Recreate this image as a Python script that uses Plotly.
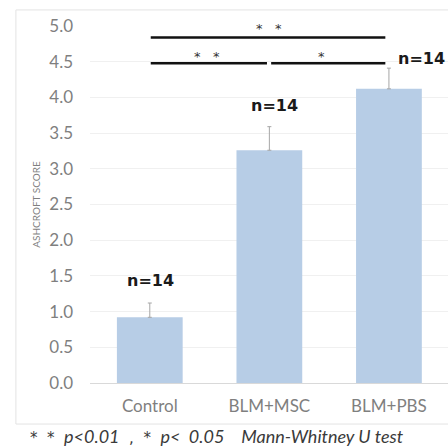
import plotly.graph_objects as go

categories = ["Control", "BLM+MSC", "BLM+PBS"]
means = [0.92, 3.26, 4.12]
errors = [0.20, 0.33, 0.29]
n_labels = ["n=14", "n=14", "n=14"]
y_ticks = [0.0, 0.5, 1.0, 1.5, 2.0, 2.5, 3.0, 3.5, 4.0, 4.5, 5.0]

FONT = "Lato, 'Open Sans', sans-serif"
GRAY = "#7f7f7f"
NB = "&nbsp;"


def dv(s):
    return "<span style='font-family:DejaVu Sans;font-size:15px'>" + s + "</span>"


fig = go.Figure()
fig.add_trace(go.Bar(
    x=[0, 1, 2], y=means, width=0.55,
    marker=dict(color="#b7cde6", line=dict(width=0)),
    error_y=dict(type="data", array=errors, arrayminus=[0, 0, 0], symmetric=False,
                 color="#a6a6a6", thickness=1, width=2),
    showlegend=False, hoverinfo="skip",
))

shapes = [
    # outer frame
    dict(type="line", xref="paper", yref="paper", x0=-0.207, x1=1.02, y0=1.045, y1=1.045,
         line=dict(color="#e3e3e3", width=1)),
    dict(type="line", xref="paper", yref="paper", x0=-0.207, x1=-0.207, y0=1.045, y1=-0.115,
         line=dict(color="#e3e3e3", width=1)),
    dict(type="line", xref="paper", yref="paper", x0=-0.207, x1=1.02, y0=-0.115, y1=-0.115,
         line=dict(color="#e3e3e3", width=1)),
    # significance lines
    dict(type="line", xref="x", yref="y", x0=0.008, x1=1.97, y0=4.84, y1=4.84,
         line=dict(color="#111111", width=2.5)),
    dict(type="line", xref="x", yref="y", x0=0.008, x1=0.98, y0=4.48, y1=4.48,
         line=dict(color="#111111", width=2.5)),
    dict(type="line", xref="x", yref="y", x0=1.015, x1=1.97, y0=4.48, y1=4.48,
         line=dict(color="#111111", width=2.5)),
]

ann = []
n_pos = [(0.01, 1.43), (1.04, 3.89), (2.27, 4.55)]
for (xx, yy), t in zip(n_pos, n_labels):
    ann.append(dict(x=xx, y=yy, xref="x", yref="y", text="<b>" + t + "</b>", showarrow=False,
                    font=dict(family="DejaVu Sans", size=16, color="#1a1a1a")))
for xx, yy, t in [(1.0, 4.97, "*" + NB * 3 + "*"), (0.48, 4.57, "*" + NB * 3 + "*"), (1.44, 4.57, "*")]:
    ann.append(dict(x=xx, y=yy, xref="x", yref="y", text=t, showarrow=False,
                    font=dict(family="DejaVu Sans", size=13, color="#333333")))

footer = (dv("*" + NB * 2 + "*" + NB * 2) + "<i>p&lt;0.01</i>"
          + dv(NB * 2 + "," + NB * 2 + "*" + NB * 2)
          + "<i>p&lt;" + NB * 2 + "0.05" + NB * 4 + "Mann-Whitney U test</i>")

fig.update_layout(
    width=448, height=447,
    margin=dict(l=90, r=0, t=26, b=64, autoexpand=False),
    paper_bgcolor="white", plot_bgcolor="white",
    font=dict(family=FONT, color=GRAY),
    shapes=shapes, annotations=ann,
    title=dict(text=footer,
               x=30 / 448, xanchor="left", xref="container",
               y=1 - 437 / 447, yanchor="middle", yref="container",
               font=dict(family=FONT, size=18, color="#3a3a3a")),
    xaxis=dict(range=[-0.5, 2.494], tickvals=[0, 1, 2], ticktext=categories,
               tickfont=dict(size=17, color=GRAY), showgrid=False, zeroline=False,
               showline=True, linecolor="#d9d9d9", linewidth=1, ticks="", ticklabelstandoff=8,
               automargin=False),
    yaxis=dict(range=[0, 5], tickvals=y_ticks, tickformat=".1f",
               tickfont=dict(size=17, color=GRAY), showgrid=True, gridcolor="#f0f0f0",
               zeroline=False, showline=False, ticks="", ticklabelstandoff=16,
               title=dict(text="ASHCROFT SCORE", font=dict(family=FONT, size=10, color=GRAY),
                          standoff=6),
               automargin=False),
)

fig.write_html("out.html", config={"displayModeBar": False},
               post_script="document.body.style.margin='0';")
